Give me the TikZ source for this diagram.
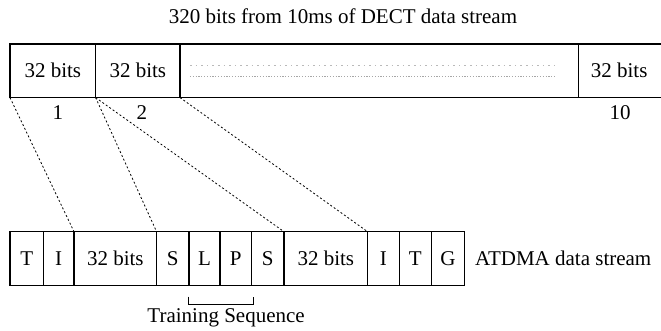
\documentclass[tikz,border=0pt]{standalone}
\usepackage{fontspec}
\setmainfont{Liberation Serif}
\usetikzlibrary{positioning}
\tikzset{
  cell/.style={draw, line width=0.6pt, inner sep=0pt, outer sep=0pt,
    minimum height=26.8pt, font=\fontsize{10.5}{12.5}\selectfont},
  lbl/.style={inner sep=0pt, font=\fontsize{10.5}{12.5}\selectfont},
  map/.style={line width=0.4pt, dash pattern=on 1pt off 1.1pt},
}
\begin{document}
\begin{tikzpicture}[x=0.5pt,y=-0.5pt]
      \useasboundingbox (0,0) rectangle (661,331);
%
      \node[lbl] (title) at (343,16.5) {320 bits from 10ms of DECT data stream};
%
      % DECT frame
      \node[cell, anchor=north west, minimum width=42.8pt] (t1) at (10,44) {32 bits};
      \node[cell, right=0pt of t1, minimum width=42.2pt] (t2) {32 bits};
      \node[cell, right=0pt of t2, minimum width=199.2pt] (tdots) {};
      \node[cell, draw=none, right=0pt of tdots, minimum width=40.8pt] (t10) {32 bits};
      \draw[line width=0.6pt] (t10.north west) -- ([xshift=2pt]t10.north east);
      \draw[line width=0.6pt] (t10.south west) -- ([xshift=2pt]t10.south east);
      %
      \draw[gray!55, line width=0.4pt, dash pattern=on 0.8pt off 2pt] (190,65) -- (555,65);
      \draw[gray!70, line width=0.4pt, dash pattern=on 0.6pt off 0.8pt] (190,76) -- (555,76);
%
      \node[lbl, below=3.7pt of t1, xshift=2.5pt] (n1) {1};
      \node[lbl, below=3.7pt of t2, xshift=2pt] (n2) {2};
      \node[lbl, below=3.7pt of t10, xshift=0.5pt] (n10) {10};
%
      % ATDMA frame
      \node[cell, anchor=north west, minimum width=16.7pt] (bT) at (10,231.7) {T};
      \node[cell, right=0pt of bT, minimum width=15.3pt] (bI) {I};
      \node[cell, right=0pt of bI, minimum width=41.3pt] (bData) {32 bits};
      \node[cell, right=0pt of bData, minimum width=16.2pt] (bS) {S};
      \node[cell, right=0pt of bS, minimum width=15.5pt] (bL) {L};
      \node[cell, right=0pt of bL, minimum width=15.8pt] (bP) {P};
      \node[cell, right=0pt of bP, minimum width=16.2pt] (bS2) {S};
      \node[cell, right=0pt of bS2, minimum width=41.8pt] (bData2) {32 bits};
      \node[cell, right=0pt of bData2, minimum width=15.8pt] (bI2) {I};
      \node[cell, right=0pt of bI2, minimum width=16pt] (bT2) {T};
      \node[cell, right=0pt of bT2, minimum width=16.8pt] (bG) {G};
      \node[lbl, right=5pt of bG] (atdma) {ATDMA data stream};
%
      \draw[map] (t1.south west) -- (bData.north west);
      \draw[map] (t2.south west) -- (bData.north east);
      \draw[map] (t2.south west) -- (bData2.north west);
      \draw[map] (tdots.south west) -- (bData2.north east);
%
      \coordinate (brL) at ([yshift=-5.7pt]bL.south west);
      \coordinate (brR) at ([xshift=0.8pt,yshift=-5.7pt]bP.south east);
      \coordinate (brLb) at ([yshift=-3.8pt]brL);
      \coordinate (brRb) at ([yshift=-3.8pt]brR);
      \draw[line width=0.5pt] (brL) -- (brLb) -- (brRb) -- (brR);
      \path (brLb) -- coordinate[midway] (brMid) (brRb);
      \node[lbl, below=1.8pt of brMid, xshift=2.5pt] (train) {Training Sequence};
   \end{tikzpicture}
\end{document}
